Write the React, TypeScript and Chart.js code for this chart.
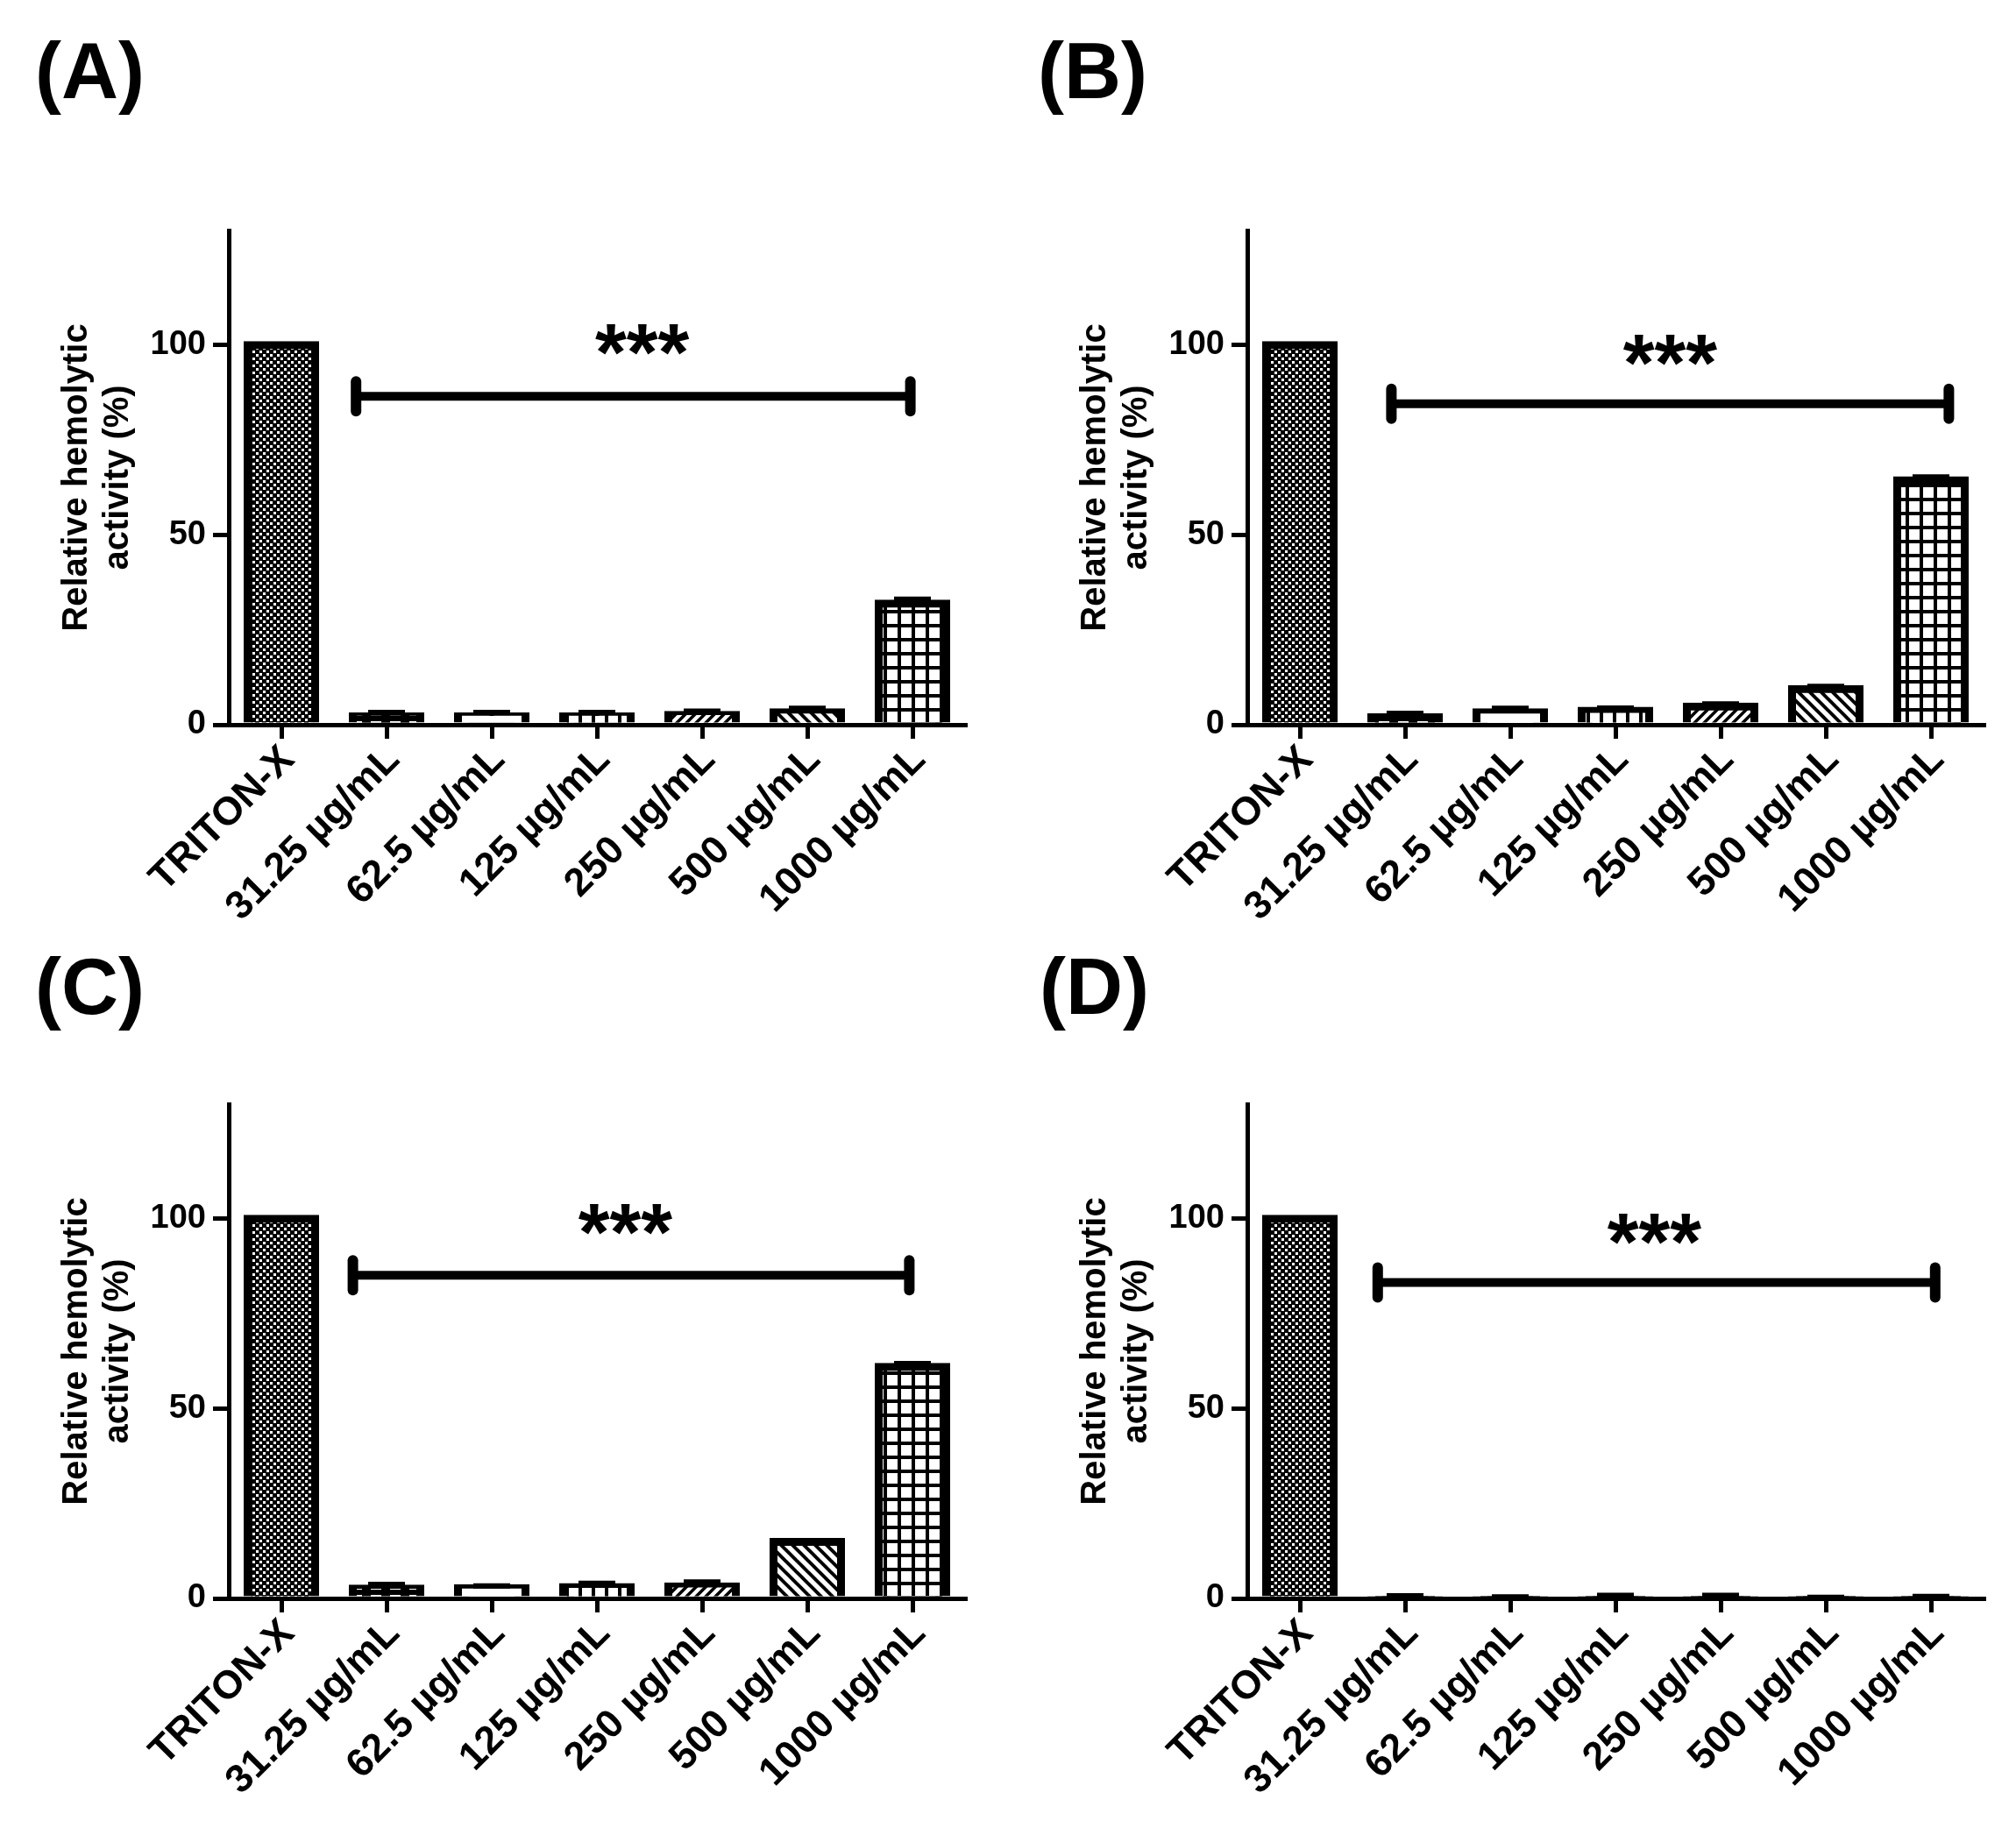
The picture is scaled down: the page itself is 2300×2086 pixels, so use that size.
import { useEffect, useRef } from "react";
import { Chart, registerables } from "chart.js";

Chart.register(...registerables);

const FONT = "'Liberation Sans', Arial, Helvetica, sans-serif";

const CATEGORIES = [
  "TRITON-X",
  "31.25 µg/mL",
  "62.5 µg/mL",
  "125 µg/mL",
  "250 µg/mL",
  "500 µg/mL",
  "1000 µg/mL",
];
const Y_TICKS = [0, 50, 100];
const Y_MAX = 130;
const Y_TITLE = ["Relative hemolytic", "activity (%)"];

// mean and SEM (upper whisker only), same order as CATEGORIES
const A_VALUES = [100, 2.3, 2.3, 2.3, 2.7, 3.4, 32.0];
const A_ERRORS = [0, 0.9, 0.9, 0.9, 0.9, 0.9, 1.0];
const B_VALUES = [100, 2.1, 3.4, 3.8, 4.9, 9.5, 64.4];
const B_ERRORS = [0, 0.9, 0.9, 0.6, 0.6, 0.6, 0.8];
const C_VALUES = [100, 2.7, 2.8, 3.1, 3.3, 15.0, 61.0];
const C_ERRORS = [0, 1.0, 0.5, 0.9, 1.0, 0, 0.8];
const D_VALUES = [100, 0.3, 0.2, 0.4, 0.4, 0.1, 0.2];
const D_ERRORS = [0, 0.4, 0.2, 0.4, 0.4, 0.2, 0.3];

// significance bracket: from category, to category, level (%)
const A_BRACKET = [0.71, 5.98, 86.4];
const B_BRACKET = [0.87, 6.17, 84.4];
const C_BRACKET = [0.68, 5.97, 85.0];
const D_BRACKET = [0.74, 6.04, 83.1];
// "***" label: category position, level (%)
const A_STARS = [3.43, 102.8];
const B_STARS = [3.52, 100.0];
const C_STARS = [3.27, 101.2];
const D_STARS = [3.37, 98.5];

// one fill per category
const FILLS = ["checker", "dash", "plain", "vlines", "slash", "backslash", "grid"];

const PANEL_W = 1150;
const PANEL_H = 860;
const PLOT_W = 840;

function makeFill(kind: string): CanvasPattern | string {
  if (kind === "plain") return "#ffffff";
  const c = document.createElement("canvas");
  const g = c.getContext("2d")!;
  const size = (w: number, h: number) => {
    c.width = w;
    c.height = h;
    g.fillStyle = "#ffffff";
    g.fillRect(0, 0, w, h);
    g.fillStyle = "#000000";
    g.strokeStyle = "#000000";
  };
  const line = (x1: number, y1: number, x2: number, y2: number) => {
    g.beginPath();
    g.moveTo(x1, y1);
    g.lineTo(x2, y2);
    g.stroke();
  };
  if (kind === "checker") {
    size(8, 8);
    g.fillRect(0, 0, 8, 8);
    g.fillStyle = "#ffffff";
    g.fillRect(0, 0, 3, 3);
    g.fillRect(4, 4, 3, 3);
  } else if (kind === "dash") {
    size(22, 10);
    g.fillRect(0, 0, 22, 10);
    g.fillStyle = "#ffffff";
    g.fillRect(5, 3, 12, 4);
  } else if (kind === "vlines") {
    size(15, 15);
    g.fillRect(0, 0, 4, 15);
  } else if (kind === "slash") {
    size(11, 11);
    g.lineWidth = 3.5;
    line(-1, 12, 12, -1);
    line(-2, 2, 2, -2);
    line(9, 13, 13, 9);
  } else if (kind === "backslash") {
    size(13, 13);
    g.lineWidth = 4;
    line(-1, -1, 14, 14);
    line(11, -2, 15, 2);
    line(-2, 11, 2, 15);
  } else {
    size(16, 16);
    g.fillRect(0, 0, 16, 4);
    g.fillRect(0, 0, 4, 16);
  }
  return g.createPattern(c, "repeat")!;
}

type PanelProps = {
  values: number[];
  errors: number[];
  bracket: number[];
  stars: number[];
  left: number;
  top: number;
  axisLeft: number;
  titleOffset: number;
};

function Panel({ values, errors, bracket, stars, left, top, axisLeft, titleOffset }: PanelProps) {
  const canvasRef = useRef<HTMLCanvasElement>(null);

  useEffect(() => {
    if (!canvasRef.current) return;
    const fills = FILLS.map(makeFill);

    const overlay = {
      id: "overlay",
      afterDatasetsDraw(chart: Chart) {
        const { ctx } = chart;
        const x = chart.scales.x;
        const y = chart.scales.y;
        const meta = chart.getDatasetMeta(0);
        ctx.save();
        ctx.strokeStyle = "#000";
        ctx.fillStyle = "#000";

        // error whiskers
        meta.data.forEach((bar: any, i: number) => {
          const e = errors[i];
          if (!e) return;
          const base = y.getPixelForValue(values[i]);
          const tip = y.getPixelForValue(values[i] + e);
          ctx.lineWidth = 5;
          ctx.beginPath();
          ctx.moveTo(bar.x, base);
          ctx.lineTo(bar.x, tip);
          ctx.stroke();
          ctx.lineWidth = 6;
          ctx.beginPath();
          ctx.moveTo(bar.x - 21, tip);
          ctx.lineTo(bar.x + 21, tip);
          ctx.stroke();
        });

        // significance bracket
        const x1 = x.getPixelForValue(bracket[0]);
        const x2 = x.getPixelForValue(bracket[1]);
        const yb = y.getPixelForValue(bracket[2]);
        ctx.lineCap = "butt";
        ctx.lineWidth = 10;
        ctx.beginPath();
        ctx.moveTo(x1, yb);
        ctx.lineTo(x2, yb);
        ctx.stroke();
        ctx.lineCap = "round";
        ctx.lineWidth = 12;
        [x1, x2].forEach((xx) => {
          ctx.beginPath();
          ctx.moveTo(xx, yb - 17);
          ctx.lineTo(xx, yb + 17);
          ctx.stroke();
        });

        const starSize = 92;
        ctx.font = `bold ${starSize}px ${FONT}`;
        ctx.textAlign = "center";
        ctx.textBaseline = "alphabetic";
        ctx.fillText(
          "***",
          x.getPixelForValue(stars[0]),
          y.getPixelForValue(stars[1]) + 0.573 * starSize,
        );
        ctx.restore();
      },
    };

    const chart = new Chart(canvasRef.current, {
      type: "bar",
      data: {
        labels: CATEGORIES,
        datasets: [
          {
            data: values,
            backgroundColor: (c: any) => (values[c.dataIndex] < 1 ? "#000000" : fills[c.dataIndex]),
            borderColor: "#000000",
            borderWidth: 9,
            borderSkipped: "start",
            inflateAmount: 4,
            barPercentage: 0.65,
            categoryPercentage: 1,
            clip: { left: false, right: false, top: false, bottom: 0 },
          } as any,
        ],
      },
      options: {
        animation: false,
        responsive: false,
        devicePixelRatio: 1,
        events: [],
        layout: {
          padding: { top: 63, left: 0, bottom: 0, right: PANEL_W - axisLeft - PLOT_W },
        },
        plugins: {
          legend: { display: false },
          tooltip: { enabled: false },
        },
        scales: {
          x: {
            offset: true,
            grid: {
              offset: false,
              drawOnChartArea: false,
              color: "#000",
              lineWidth: 5,
              tickLength: 16,
            },
            border: { color: "#000", width: 5 },
            ticks: {
              color: "#000",
              font: { family: FONT, size: 45, weight: "bold" },
              minRotation: 45,
              maxRotation: 45,
              padding: -2,
              labelOffset: 8,
              autoSkip: false,
            },
            afterFit: (s: any) => {
              s.height = PANEL_H - 63 - 564;
            },
          },
          y: {
            min: 0,
            max: Y_MAX,
            afterBuildTicks: (s: any) => {
              s.ticks = Y_TICKS.map((v) => ({ value: v }));
            },
            grid: {
              drawOnChartArea: false,
              color: "#000",
              lineWidth: 5,
              tickLength: 18,
            },
            border: { color: "#000", width: 5 },
            ticks: {
              color: "#000",
              font: { family: FONT, size: 38, weight: "bold" },
              padding: 8,
            },
            title: {
              display: true,
              text: Y_TITLE,
              color: "#000",
              font: { family: FONT, size: 40, weight: "bold", lineHeight: 1.175 },
              padding: { top: titleOffset - 23.5, bottom: 0 },
            },
            afterFit: (s: any) => {
              s.width = axisLeft;
            },
          },
        },
      },
      plugins: [overlay as any],
    });

    return () => chart.destroy();
  }, [values, errors, bracket, stars, axisLeft, titleOffset]);

  return (
    <canvas
      ref={canvasRef}
      width={PANEL_W}
      height={PANEL_H}
      style={{ position: "absolute", left, top, width: PANEL_W, height: PANEL_H }}
    />
  );
}

const letterStyle = (left: number, top: number): React.CSSProperties => ({
  position: "absolute",
  left,
  top,
  fontFamily: FONT,
  fontWeight: "bold",
  fontSize: 90,
  lineHeight: 1,
  color: "#000",
});

export default function App() {
  return (
    <div
      style={{
        position: "absolute",
        left: 0,
        top: 0,
        width: 2300,
        height: 2086,
        background: "#fff",
        overflow: "hidden",
      }}
    >
      <div style={letterStyle(40, 36)}>(A)</div>
      <div style={letterStyle(1184, 36)}>(B)</div>
      <div style={letterStyle(40, 1081)}>(C)</div>
      <div style={letterStyle(1186, 1081)}>(D)</div>
      <Panel values={A_VALUES} errors={A_ERRORS} bracket={A_BRACKET} stars={A_STARS} left={0} top={200} axisLeft={261} titleOffset={88} />
      <Panel values={B_VALUES} errors={B_ERRORS} bracket={B_BRACKET} stars={B_STARS} left={1150} top={200} axisLeft={273} titleOffset={100} />
      <Panel values={C_VALUES} errors={C_ERRORS} bracket={C_BRACKET} stars={C_STARS} left={0} top={1197} axisLeft={261} titleOffset={88} />
      <Panel values={D_VALUES} errors={D_ERRORS} bracket={D_BRACKET} stars={D_STARS} left={1150} top={1197} axisLeft={273} titleOffset={100} />
    </div>
  );
}
